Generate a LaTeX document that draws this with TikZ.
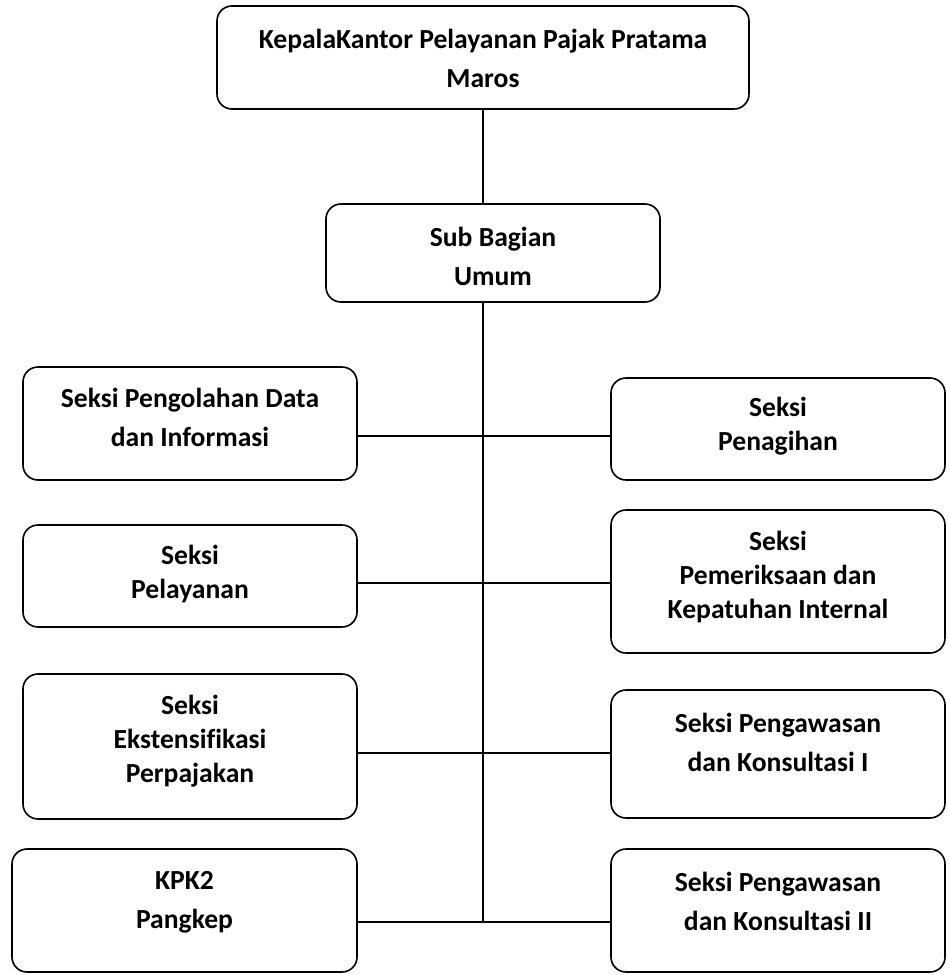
\documentclass[tikz,border=0pt]{standalone}
\usepackage{fontspec}
\setmainfont{Carlito}[Ligatures=NoCommon]
\usetikzlibrary{positioning}

\begin{document}
\begin{tikzpicture}[x=1bp,y=-1bp,line join=bevel,
  unit/.style={draw,line width=1.6bp,rounded corners=15bp,inner sep=0pt,minimum width=334bp},
  txt/.style={align=center,inner sep=0pt,font=\fontsize{27.6bp}{39bp}\selectfont\bfseries},
  tight/.style={txt,font=\fontsize{27.6bp}{34bp}\selectfont\bfseries},
  link/.style={black,line width=1.6bp}]
\useasboundingbox (0,0) rectangle (950,975);
%%
\node (kepala) at (483,57.5) [unit,minimum width=532bp,minimum height=103bp,
    label={[txt,yshift=-1bp]center:KepalaKantor Pelayanan Pajak Pratama\\Maros}] {};
  \node (subbag) at (493,253) [unit,minimum height=98bp,
    label={[txt,yshift=-3bp]center:Sub Bagian\\Umum}] {};
  \node (pengolahan) at (190,423.5) [unit,minimum height=113bp,
    label={[txt,yshift=6bp]center:Seksi Pengolahan Data\\dan Informasi}] {};
  \node (pelayanan) at (190,576) [unit,minimum height=102bp,
    label={[tight,yshift=2.5bp]center:Seksi\\Pelayanan}] {};
  \node (ekstensifikasi) at (190,746.5) [unit,minimum height=145bp,
    label={[tight,yshift=5bp]center:Seksi\\Ekstensifikasi\\Perpajakan}] {};
  \node (kpk2) at (184.5,910.5) [unit,minimum width=345bp,minimum height=123bp,
    label={[txt,yshift=8bp]center:KPK2\\Pangkep}] {};
  \node (penagihan) at (778,429) [unit,minimum height=102bp,
    label={[tight,yshift=2.5bp]center:Seksi\\Penagihan}] {};
  \node (pemeriksaan) at (778,581.5) [unit,minimum height=143bp,
    label={[tight,yshift=5bp]center:Seksi\\Pemeriksaan dan\\Kepatuhan Internal}] {};
  \node (pengawasan1) at (778,754) [unit,minimum height=128bp,
    label={[txt,yshift=11.5bp]center:Seksi Pengawasan\\dan Konsultasi I}] {};
  \node (pengawasan2) at (778,910.5) [unit,minimum height=123bp,
    label={[txt,yshift=9bp]center:Seksi Pengawasan\\dan Konsultasi II}] {};
%
\coordinate (j1) at (483,436);
  \coordinate (j2) at (483,583);
  \coordinate (j3) at (483,753);
  \coordinate (j4) at (483,922);
  \draw [link] (kepala.south) -- (kepala.south |- subbag.north);
  \draw [link] (kepala.south |- subbag.south) -- (j4);
  \draw [link] (pengolahan.east |- j1) -- (penagihan.west |- j1);
  \draw [link] (pelayanan.east |- j2) -- (pemeriksaan.west |- j2);
  \draw [link] (ekstensifikasi.east |- j3) -- (pengawasan1.west |- j3);
  \draw [link] (kpk2.east |- j4) -- (pengawasan2.west |- j4);
%
\end{tikzpicture}
\end{document}
